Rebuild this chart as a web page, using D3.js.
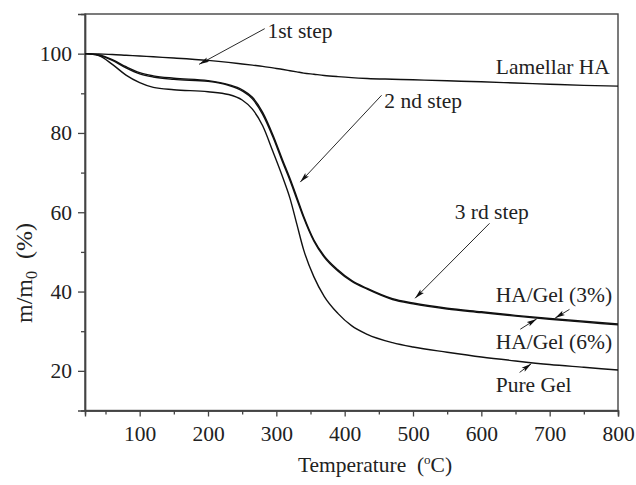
<!DOCTYPE html>
<html><head><meta charset="utf-8">
<script src="https://cdn.jsdelivr.net/npm/d3@7"></script>
<style>
body{margin:0;background:#fff}
text{font-family:"Liberation Serif","Times New Roman",serif;fill:#222}
</style>
</head><body><svg id="c" width="636" height="485"></svg>
<script>
// ---- data ----
const temperature = [20,40,60,80,100,120,150,200,230,250,265,280,295,310,320,330,340,355,370,390,410,433,470,500,550,600,650,700,750,800];
const lamellarHA = [100,99.9,99.8,99.6,99.4,99.2,98.9,98.3,97.8,97.4,97.1,96.8,96.4,96.0,95.7,95.4,95.1,94.8,94.5,94.2,93.95,93.75,93.55,93.4,93.15,92.9,92.6,92.3,92.0,91.8];
const haGel3 = [100,99.7,98.5,96.7,95.2,94.4,93.8,93.2,92.2,90.9,89.0,85.2,79.5,72.8,68.5,63.8,59.0,53.0,49.0,45.5,42.8,40.8,38.2,37.1,35.8,34.9,34.0,33.2,32.5,31.8];
const haGel6 = [100,99.6,98.3,96.4,94.9,94.1,93.5,93.0,92.0,90.6,88.6,84.7,79.0,72.3,68.0,63.3,58.6,52.7,48.7,45.2,42.6,40.6,38.0,36.9,35.6,34.7,33.8,33.0,32.3,31.6];
const pureGel = [100,99.5,97.3,94.6,92.7,91.5,90.9,90.4,89.7,88.3,86.0,81.8,75.3,68.5,63.5,57.0,50.5,43.7,38.8,34.5,31.4,29.2,27.1,26.0,24.7,23.5,22.5,21.6,20.9,20.2];
const seriesNames = ["Lamellar HA","HA/Gel (3%)","HA/Gel (6%)","Pure Gel"];
const xTicks = [100,200,300,400,500,600,700,800];
const xMinor = [50,150,250,350,450,550,650,750];
const yTicks = [20,40,60,80,100];
const yMinor = [30,50,70,90];
// annotation labels, in data coordinates (temperature, mass %)
const stepLabels = ["1st step","2 nd step","3 rd step"];
const stepTextAt = [[287,103.9],[458,86.3],[561,58.3]];
const stepArrowFrom = [[283,106.3],[454,89.5],[612,57.2]];
const stepArrowTo = [[187,97.3],[335,67.6],[503,38.3]];
const seriesLabelAt = [[788,94.8],[621,37.4],[621,25.5],[621,14.7]];
const seriesArrowFrom = [null,[729,35.5],[657,30.5],[656,19.6]];
const seriesArrowTo = [null,[708,33.3],[681,33.1],[673,21.8]];

// ---- chart ----
const svg = d3.select("#c");
const m = {l:85, t:14, r:618, b:410.5};
const x = d3.scaleLinear().domain([20,800]).range([m.l,m.r]);
const y = d3.scaleLinear().domain([10,110]).range([m.b,m.t]);
const FS = 21.5;

svg.append("defs").append("marker")
  .attr("id","ah").attr("viewBox","0 0 10 6").attr("refX",10).attr("refY",3)
  .attr("markerWidth",11).attr("markerHeight",6).attr("markerUnits","userSpaceOnUse")
  .attr("orient","auto")
  .append("path").attr("d","M0,0.5L10,3L0,5.5L2,3Z").attr("fill","#111");

// frame
svg.append("rect").attr("x",m.l).attr("y",m.t).attr("width",m.r-m.l).attr("height",m.b-m.t)
  .attr("fill","none").attr("stroke","#444").attr("stroke-width",1.4);

// x axis
svg.append("g").attr("transform",`translate(0,${m.b})`)
  .call(d3.axisBottom(x).tickValues(xTicks).tickSize(6).tickPadding(9).tickFormat(d3.format("d")));
svg.append("g").attr("transform",`translate(0,${m.b})`)
  .call(d3.axisBottom(x).tickValues(xMinor).tickSize(4).tickFormat(""));
// y axis
svg.append("g").attr("transform",`translate(${m.l},0)`)
  .call(d3.axisLeft(y).tickValues(yTicks).tickSize(7).tickPadding(6).tickFormat(d3.format("d")));
svg.append("g").attr("transform",`translate(${m.l},0)`)
  .call(d3.axisLeft(y).tickValues(yMinor).tickSize(4).tickFormat(""));
svg.selectAll(".domain").attr("stroke","#444").attr("stroke-width",1.4);
svg.selectAll(".tick line").attr("stroke","#444").attr("stroke-width",1.3);
svg.selectAll(".tick text").attr("font-size",FS).attr("font-family","Liberation Serif").attr("fill","#222");

// curves
const line = d3.line().x((d,i)=>x(temperature[i])).y(d=>y(d)).curve(d3.curveMonotoneX);
[lamellarHA,haGel3,haGel6,pureGel].forEach(s=>{
  svg.append("path").datum(s).attr("d",line).attr("fill","none")
    .attr("stroke","#111").attr("stroke-width",1.4);
});

// series labels
seriesNames.forEach((n,i)=>{
  svg.append("text").attr("x",x(seriesLabelAt[i][0])).attr("y",y(seriesLabelAt[i][1]))
    .attr("font-size",FS).attr("text-anchor",i===0?"end":"start").text(n);
  if(seriesArrowFrom[i]){
    svg.append("line").attr("x1",x(seriesArrowFrom[i][0])).attr("y1",y(seriesArrowFrom[i][1]))
      .attr("x2",x(seriesArrowTo[i][0])).attr("y2",y(seriesArrowTo[i][1]))
      .attr("stroke","#111").attr("stroke-width",0.9).attr("marker-end","url(#ah)");
  }
});
// step labels
stepLabels.forEach((n,i)=>{
  svg.append("text").attr("x",x(stepTextAt[i][0])).attr("y",y(stepTextAt[i][1]))
    .attr("font-size",FS).text(n);
  svg.append("line").attr("x1",x(stepArrowFrom[i][0])).attr("y1",y(stepArrowFrom[i][1]))
    .attr("x2",x(stepArrowTo[i][0])).attr("y2",y(stepArrowTo[i][1]))
    .attr("stroke","#111").attr("stroke-width",0.9).attr("marker-end","url(#ah)");
});

// axis titles
const xt = svg.append("text").attr("x",375).attr("y",472).attr("font-size",FS).attr("text-anchor","middle");
xt.append("tspan").text("Temperature\u2002(");
xt.append("tspan").attr("font-size",13).attr("dy",-8).text("o");
xt.append("tspan").attr("dy",8).text("C)");

const yt = svg.append("text").attr("transform","translate(32,273) rotate(-90)")
  .attr("font-size",24).attr("text-anchor","middle");
yt.append("tspan").text("m/m");
yt.append("tspan").attr("font-size",16).attr("dy",5).text("0");
yt.append("tspan").attr("dy",-5).text("\u2002(%)");
</script></body></html>
